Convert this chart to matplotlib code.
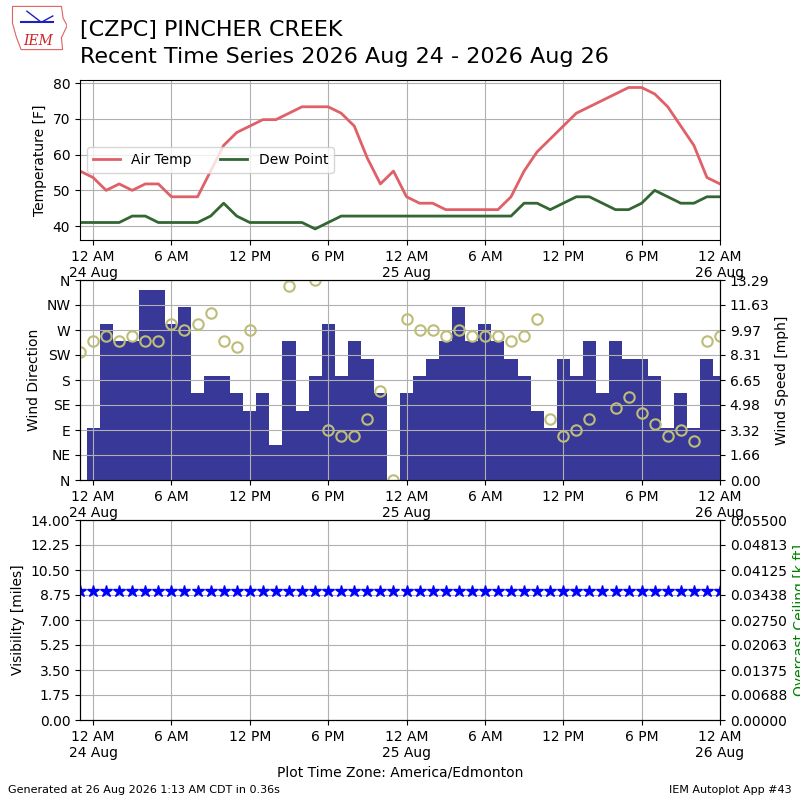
import matplotlib
matplotlib.use("Agg")
import matplotlib.pyplot as plt
import numpy as np
import pandas as pd
from matplotlib.patches import Polygon

# ---------------- data ----------------
times = pd.date_range("2026-08-23 23:00", "2026-08-26 00:00", freq="h")

air_temp = [55.4,
            53.6, 50.0, 51.8, 50.0, 51.8, 51.8, 48.2, 48.2, 48.2, 55.4, 62.6, 66.2,
            68.0, 69.8, 69.8, 71.6, 73.4, 73.4, 73.4, 71.6, 68.0, 59.0, 51.8, 55.4,
            48.2, 46.4, 46.4, 44.6, 44.6, 44.6, 44.6, 44.6, 48.2, 55.4, 60.8, 64.4,
            68.0, 71.6, 73.4, 75.2, 77.0, 78.8, 78.8, 77.0, 73.4, 68.0, 62.6, 53.6,
            51.8]

dew_point = [41.0,
             41.0, 41.0, 41.0, 42.8, 42.8, 41.0, 41.0, 41.0, 41.0, 42.8, 46.4, 42.8,
             41.0, 41.0, 41.0, 41.0, 41.0, 39.2, 41.0, 42.8, 42.8, 42.8, 42.8, 42.8,
             42.8, 42.8, 42.8, 42.8, 42.8, 42.8, 42.8, 42.8, 42.8, 46.4, 46.4, 44.6,
             46.4, 48.2, 48.2, 46.4, 44.6, 44.6, 46.4, 50.0, 48.2, 46.4, 46.4, 48.2,
             48.2]

wind_speed = [0.0,
              3.45, 10.36, 9.21, 9.21, 12.66, 12.66, 10.36, 11.51, 5.75, 6.90, 6.90, 5.75,
              4.60, 5.75, 2.30, 9.21, 4.60, 6.90, 10.36, 6.90, 9.21, 8.06, 5.75, 0.0,
              5.75, 6.90, 8.06, 9.21, 11.51, 9.21, 10.36, 9.21, 8.06, 6.90, 4.60, 3.45,
              8.06, 6.90, 9.21, 5.75, 9.21, 8.06, 8.06, 6.90, 3.45, 5.75, 3.45, 8.06,
              6.90]

nan = np.nan
wind_dir = [230,
            250, 260, 250, 260, 250, 250, 280, 270, 280, 300, 250, 240,
            270, nan, nan, 350, nan, 360, 90, 80, 80, 110, 160, 0,
            290, 270, 270, 260, 270, 260, 260, 260, 250, 260, 290, 110,
            80, 90, 110, nan, 130, 150, 120, 100, 80, 90, 70, 250,
            260]

visibility = [9.0,
              9.0, 9.0, 9.0, 9.0, 9.0, 9.0, 9.0, 9.0, 9.0, 9.0, 9.0, 9.0,
              9.0, 9.0, 9.0, 9.0, 9.0, 9.0, 9.0, 9.0, 9.0, 9.0, 9.0, 9.0,
              9.0, 9.0, 9.0, 9.0, 9.0, 9.0, 9.0, 9.0, 9.0, 9.0, 9.0, 9.0,
              9.0, 9.0, 9.0, 9.0, 9.0, 9.0, 9.0, 9.0, 9.0, 9.0, 9.0, 9.0,
              9.0]

tick_times = pd.date_range("2026-08-24 00:00", "2026-08-26 00:00", freq="6h")
tick_labels = ["12 AM\n24 Aug", "6 AM", "12 PM", "6 PM", "12 AM\n25 Aug",
               "6 AM", "12 PM", "6 PM", "12 AM\n26 Aug"]
dir_labels = ["N", "NE", "E", "SE", "S", "SW", "W", "NW", "N"]

xmin = pd.Timestamp("2026-08-23 23:00")
xmax = pd.Timestamp("2026-08-26 00:00")

# ---------------- figure ----------------
fig = plt.figure(figsize=(8, 8), dpi=100)

fig.text(0.1, 0.962, "[CZPC] PINCHER CREEK", fontsize=16, va="center", ha="left")
fig.text(0.1, 0.929, "Recent Time Series 2026 Aug 24 - 2026 Aug 26", fontsize=16,
         va="center", ha="left")

# logo
lax = fig.add_axes([0.012, 0.935, 0.072, 0.06])
lax.set_xlim(0, 1)
lax.set_ylim(0, 1)
lax.axis("off")
outline = [(0.05, 0.95), (0.9, 0.95), (0.93, 0.7), (1.0, 0.55), (0.9, 0.3),
           (0.92, 0.05), (0.2, 0.05), (0.12, 0.3), (0.05, 0.6)]
lax.add_patch(Polygon(outline, closed=True, fill=False, edgecolor="#e06060", lw=0.8))
lax.plot([0.2, 0.75], [0.62, 0.62], color="#2020c0", lw=1.5)
lax.plot([0.3, 0.55, 0.75], [0.85, 0.62, 0.75], color="#2020c0", lw=1.0)
lax.text(0.5, 0.22, "IEM", color="#d02020", fontsize=10, family="serif",
         style="italic", ha="center", va="center")

axes = []

# ---- temperature panel ----
ax1 = fig.add_axes([0.1, 0.7, 0.8, 0.2])
ax1.plot(times, air_temp, color="#e06068", lw=2, label="Air Temp")
ax1.plot(times, dew_point, color="#336633", lw=2, label="Dew Point")
ax1.set_ylim(36.1, 80.9)
ax1.set_yticks([40, 50, 60, 70, 80])
ax1.set_ylabel("Temperature [F]")
ax1.legend(loc="center left", ncol=2, fontsize=10)
axes.append(ax1)

# ---- wind panel ----
ax2 = fig.add_axes([0.1, 0.4, 0.8, 0.25])
ax2s = ax2.twinx()
ax2s.bar(times, wind_speed, width=1.0 / 24.0, color="#383898", align="center", zorder=2)
smax = max(wind_speed) * 1.05
ax2s.set_ylim(0, smax)
ax2s.set_yticks(np.linspace(0, smax, 9))
ax2s.set_yticklabels(["%.2f" % v for v in np.linspace(0, smax, 9)])
ax2s.set_ylabel("Wind Speed [mph]")
ax2.set_zorder(ax2s.get_zorder() + 1)
ax2.patch.set_visible(False)
ax2.plot(times, wind_dir, linestyle="none", marker="o", mfc="none",
         mec="#bdbd78", ms=7.5, mew=1.5)
ax2.set_ylim(0, 360)
ax2.set_yticks(np.arange(0, 361, 45))
ax2.set_yticklabels(dir_labels)
ax2.set_ylabel("Wind Direction")
axes.append(ax2)

# ---- visibility panel ----
ax3 = fig.add_axes([0.1, 0.1, 0.8, 0.25])
ax3.plot(times, visibility, linestyle="none", marker="*", color="b", ms=9)
ax3.set_ylim(0, 14)
vt = np.linspace(0, 14, 9)
ax3.set_yticks(vt)
ax3.set_yticklabels(["%.2f" % v for v in vt])
ax3.set_ylabel("Visibility [miles]")
ax3.set_xlabel("Plot Time Zone: America/Edmonton")
ax3r = ax3.twinx()
ax3r.set_ylim(0, 0.055)
ct = np.linspace(0, 0.055, 9)
ax3r.set_yticks(ct)
ax3r.set_yticklabels(["%.5f" % v for v in ct])
ax3r.set_ylabel("Overcast Ceiling [k ft]", color="g")
axes.append(ax3)

for ax in axes:
    ax.set_xlim(xmin, xmax)
    ax.set_xticks(tick_times)
    ax.set_xticklabels(tick_labels)
    ax.grid(True)

fig.text(0.01, 0.013, "Generated at 26 Aug 2026 1:13 AM CDT in 0.36s", fontsize=8,
         ha="left", va="center")
fig.text(0.99, 0.013, "IEM Autoplot App #43", fontsize=8, ha="right", va="center")

fig.savefig("out.png", dpi=100)
